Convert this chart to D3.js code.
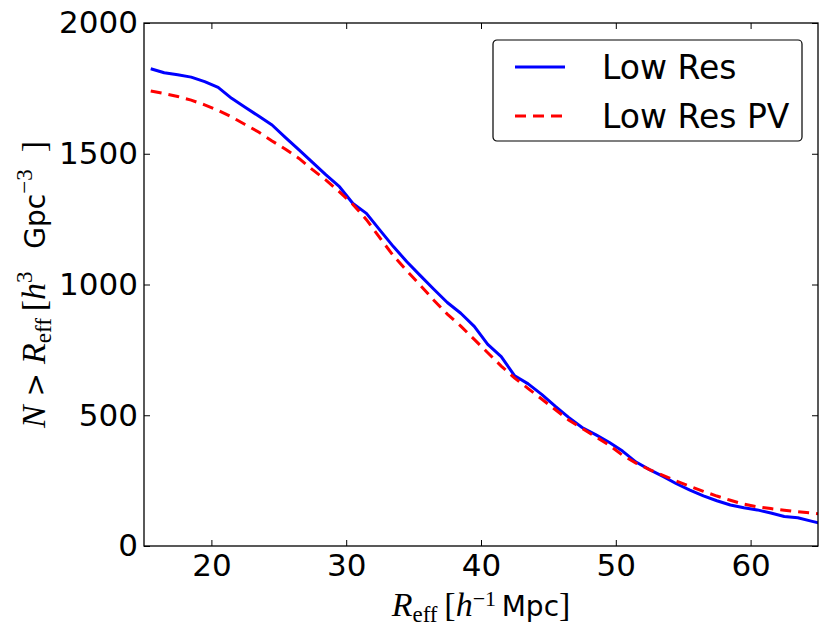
<!DOCTYPE html>
<html>
<head>
<meta charset="utf-8">
<script src="https://cdn.jsdelivr.net/npm/d3@7"></script>
<style>
  body { margin: 0; background: #fff; }
  svg { display: block; }
  .tick text { font-family: "DejaVu Sans", sans-serif; font-size: 31px; fill: #000; }
</style>
</head>
<body>
<div id="chart"></div>
<script>
// effective radius bins [h^-1 Mpc]
const rEff = [15.5, 16.5, 17.5, 18.5, 19.5, 20.5, 21.5, 22.5, 23.5, 24.5,
    25.5, 26.5, 27.5, 28.5, 29.5, 30.5, 31.5, 32.5, 33.5, 34.5,
    35.5, 36.5, 37.5, 38.5, 39.5, 40.5, 41.5, 42.5, 43.5, 44.5,
    45.5, 46.5, 47.5, 48.5, 49.5, 50.5, 51.5, 52.5, 53.5, 54.5,
    55.5, 56.5, 57.5, 58.5, 59.5, 60.5, 61.5, 62.5, 63.5, 64.5, 65.5];

// cumulative number density N > R_eff
const lowRes = [1825, 1810, 1802, 1793, 1776, 1754, 1712, 1678, 1644, 1610,
    1562, 1515, 1467, 1419, 1374, 1310, 1272, 1208, 1145, 1087,
    1034, 982, 931, 890, 840, 771, 724, 651, 620, 580,
    535, 492, 453, 426, 397, 363, 321, 292, 266, 238,
    214, 192, 173, 157, 146, 138, 126, 113, 108, 95, 83];

const lowResPV = [1740, 1730, 1719, 1705, 1687, 1666, 1641, 1612, 1583, 1549,
    1517, 1482, 1439, 1399, 1354, 1306, 1248, 1178, 1110, 1052,
    997, 940, 887, 841, 790, 739, 688, 642, 602, 562,
    522, 482, 450, 418, 386, 347, 317, 292, 270, 248,
    228, 209, 191, 175, 160, 150, 143, 137, 131, 126, 120];

const xTicks = [20, 30, 40, 50, 60];
const yTicks = [0, 500, 1000, 1500, 2000];

const svgWidth = 830;
const svgHeight = 635;
const margin = { top: 23, right: 12, bottom: 89, left: 144 };
const width = svgWidth - margin.left - margin.right;
const height = svgHeight - margin.top - margin.bottom;

const svg = d3.select('#chart')
    .append('svg')
    .attr('width', svgWidth)
    .attr('height', svgHeight)
    .append('g')
    .attr('transform', 'translate(' + margin.left + ',' + margin.top + ')');

const xScale = d3.scaleLinear().domain([15, 65]).range([0, width]);
const yScale = d3.scaleLinear().domain([0, 2000]).range([height, 0]);

svg.append('clipPath')
    .attr('id', 'plot-clip')
    .append('rect')
    .attr('width', width)
    .attr('height', height);

// curves
const line = d3.line()
    .x((d, i) => xScale(rEff[i]))
    .y(d => yScale(d));

svg.append('path')
    .datum(lowRes)
    .attr('clip-path', 'url(#plot-clip)')
    .attr('fill', 'none')
    .attr('stroke', '#0000ff')
    .attr('stroke-width', 3)
    .attr('stroke-linejoin', 'round')
    .attr('d', line);

svg.append('path')
    .datum(lowResPV)
    .attr('clip-path', 'url(#plot-clip)')
    .attr('fill', 'none')
    .attr('stroke', '#ff0000')
    .attr('stroke-width', 3)
    .attr('stroke-dasharray', '11,7')
    .attr('d', line);

// axes, ticks point inward on all four sides
const fmt = d3.format('d');
const xAxis = svg.append('g')
    .attr('transform', 'translate(0,' + height + ')')
    .call(d3.axisBottom(xScale).tickValues(xTicks).tickFormat(fmt).tickSize(-6).tickSizeOuter(0).tickPadding(8));
const xTop = svg.append('g')
    .call(d3.axisTop(xScale).tickValues(xTicks).tickSize(-6).tickSizeOuter(0).tickFormat(''));
const yAxis = svg.append('g')
    .call(d3.axisLeft(yScale).tickValues(yTicks).tickFormat(fmt).tickSize(-6).tickSizeOuter(0).tickPadding(6));
const yRight = svg.append('g')
    .attr('transform', 'translate(' + width + ',0)')
    .call(d3.axisRight(yScale).tickValues(yTicks).tickSize(-6).tickSizeOuter(0).tickFormat(''));

[xAxis, xTop, yAxis, yRight].forEach(a => {
    a.select('.domain').remove();
    a.selectAll('.tick line').attr('stroke', '#000').attr('stroke-width', 1);
});

svg.append('rect')
    .attr('width', width)
    .attr('height', height)
    .attr('fill', 'none')
    .attr('stroke', '#000')
    .attr('stroke-width', 1.3);

// axis labels: math parts in a serif face, plain text in sans
const serif = '"Liberation Serif", "DejaVu Serif", serif';
const sans = '"DejaVu Sans", sans-serif';

function mathLabel(sel, parts) {
    parts.forEach(p => {
        const t = sel.append('tspan')
            .style('font-family', p.sans ? sans : serif)
            .style('font-size', p.size + 'px')
            .text(p.t);
        if (p.italic) t.style('font-style', 'italic');
        if (p.dy) t.attr('dy', p.dy);
    });
}

const xLabel = svg.append('text')
    .attr('x', width / 2)
    .attr('y', height + 70)
    .attr('text-anchor', 'middle');
mathLabel(xLabel, [
    { t: 'R', italic: true, size: 34 },
    { t: 'eff', size: 23, dy: 6 },
    { t: '\u2009[', size: 34, dy: -6 },
    { t: 'h', italic: true, size: 34 },
    { t: '\u22121', size: 22, dy: -10 },
    { t: '\u2009Mpc', sans: true, size: 28, dy: 10 },
    { t: ']', size: 34 }
]);

const yLabel = svg.append('text')
    .attr('transform', 'translate(' + (45 - margin.left) + ',' + height / 2 + ') rotate(-90)')
    .attr('text-anchor', 'middle');
mathLabel(yLabel, [
    { t: 'N', italic: true, size: 34 },
    { t: ' > ', sans: true, size: 28 },
    { t: 'R', italic: true, size: 34 },
    { t: 'eff', size: 23, dy: 6 },
    { t: '\u2009[', size: 34, dy: -6 },
    { t: 'h', italic: true, size: 34 },
    { t: '3', size: 23, dy: -13 },
    { t: '\u2002 Gpc', sans: true, size: 28, dy: 13 },
    { t: '\u22123', size: 23, dy: -13 },
    { t: '\u2002]', size: 34, dy: 13 }
]);

// legend
const legendItems = [
    { name: 'Low Res', color: '#0000ff', dash: null },
    { name: 'Low Res PV', color: '#ff0000', dash: '11,7' }
];

const legend = svg.append('g')
    .attr('transform', 'translate(' + (493 - margin.left) + ',' + (40 - margin.top) + ')');

legend.append('rect')
    .attr('width', 309)
    .attr('height', 101)
    .attr('rx', 4)
    .attr('fill', '#fff')
    .attr('stroke', '#000')
    .attr('stroke-width', 1.2);

legendItems.forEach((item, i) => {
    const rowY = 27 + i * 49;
    legend.append('line')
        .attr('x1', 22)
        .attr('x2', 72)
        .attr('y1', rowY)
        .attr('y2', rowY)
        .attr('stroke', item.color)
        .attr('stroke-width', 3)
        .attr('stroke-dasharray', item.dash);
    legend.append('text')
        .attr('x', 109)
        .attr('y', rowY)
        .attr('dy', '0.36em')
        .style('font-family', sans)
        .style('font-size', '33px')
        .text(item.name);
});
</script>
</body>
</html>
